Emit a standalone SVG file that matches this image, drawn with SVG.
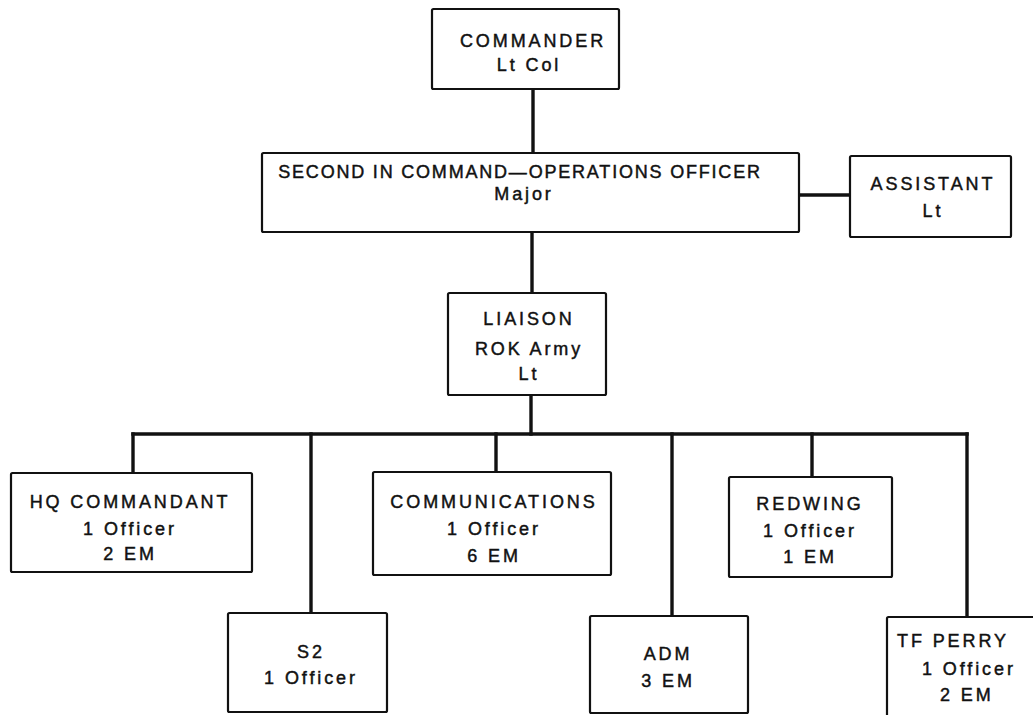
<svg xmlns="http://www.w3.org/2000/svg" width="1033" height="715" viewBox="0 0 1033 715">
  <style>
    .box { fill: #fff; stroke: #111; stroke-width: 2.2; }
    .wire { fill: none; stroke: #111; stroke-width: 3.4; stroke-linecap: square; }
    text { font-family: "Liberation Sans", Arial, sans-serif; font-size: 18px; fill: #111; stroke: #111; stroke-width: 0.45; letter-spacing: 2.9px; text-anchor: middle; }
    .tight { letter-spacing: 1.8px; }
    .l { text-anchor: start; }
  </style>
  <rect width="1033" height="715" fill="#fff"/>

  <!-- connectors -->
  <g id="connectors">
    <path class="wire" d="M533 89 V153"/>
    <path class="wire" d="M799 195 H850"/>
    <path class="wire" d="M532 232 V293"/>
    <path class="wire" d="M531 395 V434"/>
    <path class="wire" d="M133 434 H967"/>
    <path class="wire" d="M133 434 V473"/>
    <path class="wire" d="M311 434 V613"/>
    <path class="wire" d="M496 434 V472"/>
    <path class="wire" d="M672 434 V616"/>
    <path class="wire" d="M812 434 V477"/>
    <path class="wire" d="M967 434 V617"/>
  </g>

  <g id="commander">
    <rect class="box" x="432" y="9" width="187" height="80" rx="1.5"/>
    <text x="533" y="47">COMMANDER</text>
    <text x="529" y="71">Lt Col</text>
  </g>

  <g id="second-in-command">
    <rect class="box" x="262" y="153" width="537" height="79" rx="1.5"/>
    <text class="tight" x="520" y="178">SECOND IN COMMAND—OPERATIONS OFFICER</text>
    <text x="524" y="200">Major</text>
  </g>

  <g id="assistant">
    <rect class="box" x="850" y="156" width="161" height="81" rx="1.5"/>
    <text x="933" y="190">ASSISTANT</text>
    <text x="933" y="217">Lt</text>
  </g>

  <g id="liaison">
    <rect class="box" x="448" y="293" width="158" height="102" rx="1.5"/>
    <text x="529" y="325">LIAISON</text>
    <text x="529" y="355">ROK Army</text>
    <text x="529" y="380">Lt</text>
  </g>

  <g id="hq-commandant">
    <rect class="box" x="11" y="473" width="241" height="99" rx="1.5"/>
    <text x="130" y="508">HQ COMMANDANT</text>
    <text x="130" y="535">1 Officer</text>
    <text x="130" y="560">2 EM</text>
  </g>

  <g id="communications">
    <rect class="box" x="373" y="472" width="238" height="103" rx="1.5"/>
    <text x="494" y="508">COMMUNICATIONS</text>
    <text x="494" y="535">1 Officer</text>
    <text x="494" y="562">6 EM</text>
  </g>

  <g id="redwing">
    <rect class="box" x="729" y="477" width="163" height="100" rx="1.5"/>
    <text x="810" y="510">REDWING</text>
    <text x="810" y="537">1 Officer</text>
    <text x="810" y="563">1 EM</text>
  </g>

  <g id="s2">
    <rect class="box" x="228" y="613" width="159" height="99" rx="1.5"/>
    <text x="311" y="658">S2</text>
    <text x="311" y="684">1 Officer</text>
  </g>

  <g id="adm">
    <rect class="box" x="590" y="616" width="158" height="97" rx="1.5"/>
    <text x="668" y="660">ADM</text>
    <text x="668" y="687">3 EM</text>
  </g>

  <g id="tf-perry">
    <rect class="box" x="887" y="617" width="160" height="110" rx="1.5"/>
    <text class="l" x="897" y="647">TF PERRY</text>
    <text class="l" x="922" y="675">1 Officer</text>
    <text class="l" x="940" y="701">2 EM</text>
  </g>
</svg>
